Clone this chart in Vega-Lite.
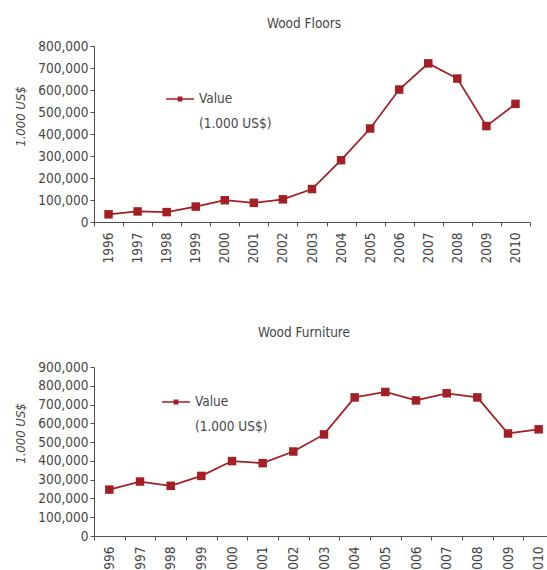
{
  "$schema": "https://vega.github.io/schema/vega-lite/v6.json",
  "background": "white",
  "padding": {"left": 14, "top": 16, "right": 0, "bottom": 0},
  "datasets": {
    "floors": [
      {"year": "1996", "value": 35000, "series": "Value"},
      {"year": "1997", "value": 48000, "series": "Value"},
      {"year": "1998", "value": 45000, "series": "Value"},
      {"year": "1999", "value": 70000, "series": "Value"},
      {"year": "2000", "value": 99000, "series": "Value"},
      {"year": "2001", "value": 87000, "series": "Value"},
      {"year": "2002", "value": 103000, "series": "Value"},
      {"year": "2003", "value": 150000, "series": "Value"},
      {"year": "2004", "value": 281000, "series": "Value"},
      {"year": "2005", "value": 425000, "series": "Value"},
      {"year": "2006", "value": 602000, "series": "Value"},
      {"year": "2007", "value": 721000, "series": "Value"},
      {"year": "2008", "value": 652000, "series": "Value"},
      {"year": "2009", "value": 436000, "series": "Value"},
      {"year": "2010", "value": 537000, "series": "Value"}
    ],
    "furniture": [
      {"year": "1996", "value": 247000, "series": "Value"},
      {"year": "1997", "value": 290000, "series": "Value"},
      {"year": "1998", "value": 267000, "series": "Value"},
      {"year": "1999", "value": 320000, "series": "Value"},
      {"year": "2000", "value": 399000, "series": "Value"},
      {"year": "2001", "value": 388000, "series": "Value"},
      {"year": "2002", "value": 450000, "series": "Value"},
      {"year": "2003", "value": 541000, "series": "Value"},
      {"year": "2004", "value": 738000, "series": "Value"},
      {"year": "2005", "value": 767000, "series": "Value"},
      {"year": "2006", "value": 722000, "series": "Value"},
      {"year": "2007", "value": 760000, "series": "Value"},
      {"year": "2008", "value": 738000, "series": "Value"},
      {"year": "2009", "value": 546000, "series": "Value"},
      {"year": "2010", "value": 568000, "series": "Value"}
    ]
  },
  "config": {
    "font": "'DejaVu Sans Condensed', 'Liberation Sans Narrow', sans-serif",
    "view": {"stroke": null},
    "concat": {"spacing": 62},
    "style": {"guide-label": {"lineHeight": 24.5}},
    "axis": {
      "grid": false,
      "labelFont": "'DejaVu Sans Condensed', 'Liberation Sans Narrow', sans-serif",
      "labelFontSize": 13.5,
      "labelColor": "#454545",
      "domainColor": "#505050",
      "tickColor": "#505050",
      "tickSize": 4,
      "titleFont": "'DejaVu Sans Condensed', 'Liberation Sans Narrow', sans-serif",
      "titleFontSize": 13,
      "titleFontStyle": "italic",
      "titleFontWeight": "normal",
      "titleColor": "#454545"
    },
    "legend": {
      "labelFont": "'DejaVu Sans Condensed', 'Liberation Sans Narrow', sans-serif",
      "labelFontSize": 13.5,
      "labelColor": "#454545",
      "padding": 0,
      "labelOffset": 5,
      "symbolSize": 784,
      "symbolType": "M-1,-0.055L1,-0.055L1,0.055L-1,0.055Z M-0.17,-0.17L0.17,-0.17L0.17,0.17L-0.17,0.17Z",
      "symbolStrokeWidth": 0
    },
    "title": {
      "font": "'DejaVu Sans Condensed', 'Liberation Sans Narrow', sans-serif",
      "fontSize": 13.5,
      "fontWeight": "normal",
      "color": "#454545"
    }
  },
  "resolve": {"scale": {"color": "independent"}, "legend": {"color": "independent"}},
  "vconcat": [
    {
      "title": {"text": "Wood Floors", "offset": 9, "dx": -8},
      "width": 436,
      "height": 176,
      "data": {"name": "floors"},
      "encoding": {
        "x": {"field": "year", "type": "ordinal", "bandPosition": 0.5,
              "scale": {"type": "band", "paddingInner": 0, "paddingOuter": 0},
              "axis": {"title": null, "labelAngle": -90, "tickBand": "extent", "labelPadding": 6}},
        "y": {"field": "value", "type": "quantitative",
              "scale": {"domain": [0, 800000]},
              "axis": {"title": "1.000 US$", "values": [0, 100000, 200000, 300000, 400000, 500000, 600000, 700000, 800000], "format": ",.0f", "labelOverlap": false, "titlePadding": 10, "titleY": 70}}
      },
      "layer": [
        {"mark": {"type": "line", "color": "#A31F24", "strokeWidth": 1.75}},
        {
          "mark": {"type": "point", "shape": "square", "filled": true, "size": 72, "opacity": 1},
          "encoding": {
            "color": {"field": "series", "type": "nominal",
                      "scale": {"range": ["#A31F24"]},
                      "legend": {"title": null, "orient": "none", "legendX": 72, "legendY": 39,
                                 "labelExpr": "['Value', '(1.000 US$)']"}}
          }
        }
      ]
    },
    {
      "title": {"text": "Wood Furniture", "offset": 21, "dx": -20},
      "width": 460,
      "height": 169,
      "data": {"name": "furniture"},
      "encoding": {
        "x": {"field": "year", "type": "ordinal", "bandPosition": 0.5,
              "scale": {"type": "band", "paddingInner": 0, "paddingOuter": 0},
              "axis": {"title": null, "labelAngle": -90, "tickBand": "extent", "labelPadding": 6}},
        "y": {"field": "value", "type": "quantitative",
              "scale": {"domain": [0, 900000]},
              "axis": {"title": "1.000 US$", "values": [0, 100000, 200000, 300000, 400000, 500000, 600000, 700000, 800000, 900000], "format": ",.0f", "labelOverlap": false, "titlePadding": 10, "titleY": 66}}
      },
      "layer": [
        {"mark": {"type": "line", "color": "#A31F24", "strokeWidth": 1.75}},
        {
          "mark": {"type": "point", "shape": "square", "filled": true, "size": 72, "opacity": 1},
          "encoding": {
            "color": {"field": "series", "type": "nominal",
                      "scale": {"range": ["#A31F24"]},
                      "legend": {"title": null, "orient": "none", "legendX": 68, "legendY": 21,
                                 "labelExpr": "['Value', '(1.000 US$)']"}}
          }
        }
      ]
    }
  ]
}
